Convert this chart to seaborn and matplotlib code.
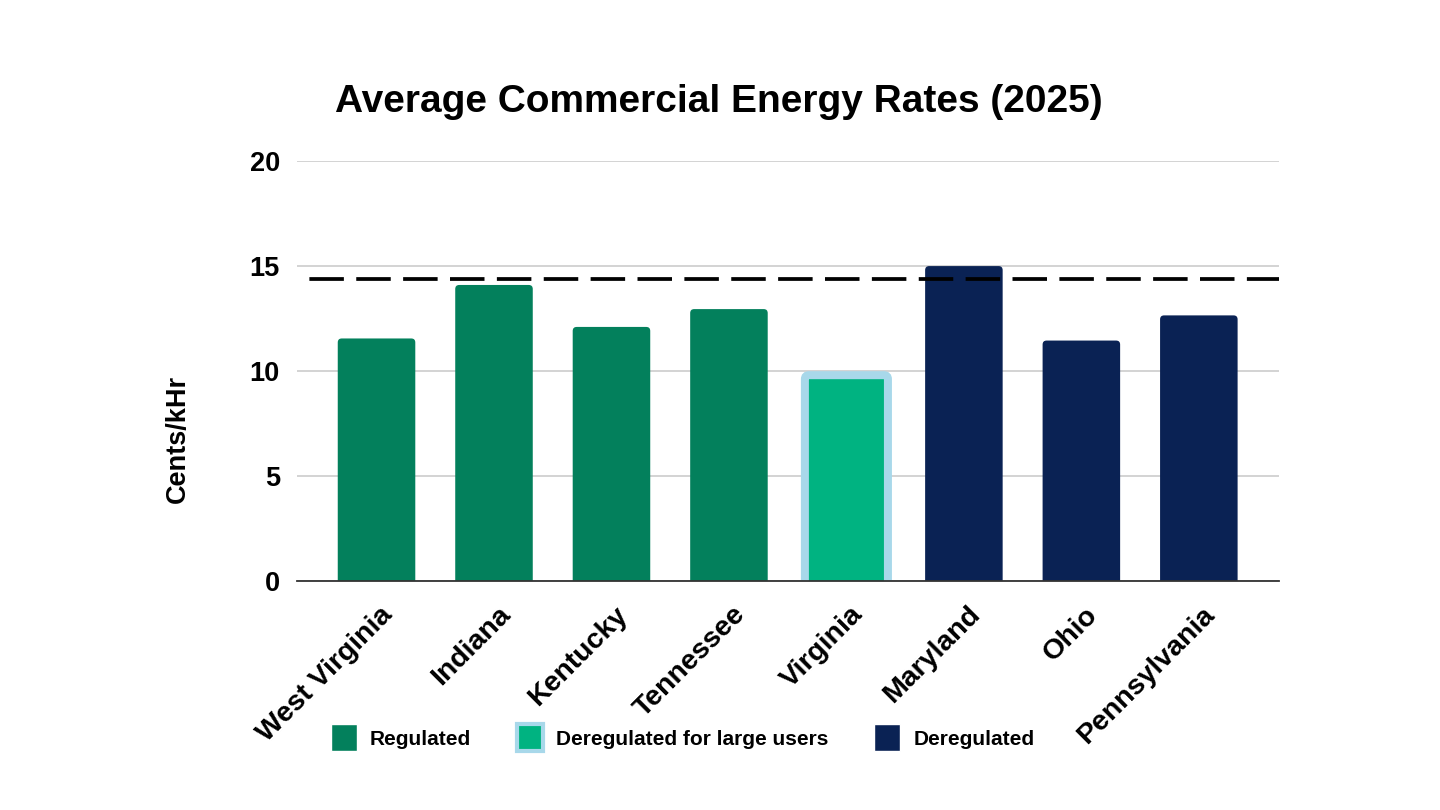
import matplotlib
matplotlib.use("Agg")
import matplotlib.pyplot as plt
import seaborn as sns
import pandas as pd
from matplotlib.patches import Patch, FancyBboxPatch
from matplotlib.transforms import ScaledTranslation

# ─── Data ────────────────────────────────────────────────────────────────────
states = ["West Virginia", "Indiana", "Kentucky", "Tennessee",
          "Virginia", "Maryland", "Ohio", "Pennsylvania"]
rates = [11.55, 14.1, 12.1, 12.95, 9.8, 15.0, 11.45, 12.65]
market = ["Regulated", "Regulated", "Regulated", "Regulated",
          "Deregulated for large users", "Deregulated", "Deregulated", "Deregulated"]
national_avg = 14.37
y_ticks = [0, 5, 10, 15, 20]

palette = {"Regulated": "#03805c",
           "Deregulated for large users": "#00b381",
           "Deregulated": "#0a2254"}
outline = "#a8d8ea"

df = pd.DataFrame({"state": states, "rate": rates, "market": market})

sns.set_theme(style="white")
plt.rcParams["font.family"] = ["Liberation Sans", "DejaVu Sans"]
plt.rcParams.update({"text.color": "black", "axes.labelcolor": "black",
                     "xtick.color": "black", "ytick.color": "black"})

fig = plt.figure(figsize=(14.4, 8.1), dpi=100)
ax = fig.add_axes([0.206, 0.283, 0.682, 0.518])

sns.barplot(data=df, x="state", y="rate", hue="market", palette=palette,
            dodge=False, width=0.66, legend=False, ax=ax, saturation=1)

ax.set_ylim(0, 20)
ax.set_xlim(-0.68, len(states) - 0.32)

# swap the plain bars for ones with slightly rounded tops
px_x = ax.bbox.width / (ax.get_xlim()[1] - ax.get_xlim()[0])
px_y = ax.bbox.height / (ax.get_ylim()[1] - ax.get_ylim()[0])
r_px = 4.0
rx, ry = r_px / px_x, r_px / px_y
edge_px = 8.0
bars = list(ax.patches)
for patch, m in zip(bars, market):
    x, w, h = patch.get_x(), patch.get_width(), patch.get_height()
    fc = patch.get_facecolor()
    patch.remove()
    kw = dict(facecolor=fc, edgecolor="none", lw=0)
    if m == "Deregulated for large users":
        kw.update(edgecolor=outline, lw=edge_px * 72 / fig.dpi)
        grow = 5.5 / px_x
        x, w = x - grow / 2, w + grow
    rb = FancyBboxPatch((x, -3 * ry), w, h + 3 * ry,
                        boxstyle=f"round,pad=0,rounding_size={rx}",
                        mutation_aspect=ry / rx, zorder=2, **kw)
    ax.add_patch(rb)

ax.axhline(national_avg, color="black", lw=2.7,
           linestyle=(9.2, (9.2, 3.3)), zorder=5)

ax.set_yticks(y_ticks)
ax.yaxis.grid(True, color="#cccccc", lw=1.2)
ax.set_axisbelow(True)
for s in ["top", "right", "left"]:
    ax.spines[s].set_visible(False)
ax.spines["bottom"].set_color("#333333")
ax.spines["bottom"].set_linewidth(1.3)
ax.spines["bottom"].set_zorder(6)
ax.tick_params(axis="both", length=0, labelsize=19.5)
ax.tick_params(axis="y", pad=12)
for lbl in ax.get_yticklabels():
    lbl.set_fontweight("bold")
ax.set_xticks(range(len(states)))
ax.set_xticklabels(states, rotation=45, ha="right", rotation_mode="anchor",
                   fontweight="bold", fontsize=20.5)
ax.tick_params(axis="x", pad=15)
shift = ScaledTranslation(3 / 100, 0, fig.dpi_scale_trans)
for lbl in ax.get_xticklabels():
    lbl.set_transform(lbl.get_transform() + shift)
ax.set_xlabel("")
ax.set_ylabel("Cents/kHr", fontsize=19.5, fontweight="bold")
ax.yaxis.set_label_coords(-0.108, 0.338)

fig.text(0.499, 0.874, "Average Commercial Energy Rates (2025)", ha="center",
         va="center", fontsize=28, fontweight="bold")

handles = [Patch(facecolor=palette["Regulated"], label="Regulated"),
           Patch(facecolor=palette["Deregulated for large users"],
                 edgecolor=outline, lw=3, label="Deregulated for large users"),
           Patch(facecolor=palette["Deregulated"], label="Deregulated")]
fig.legend(handles=handles, loc="center", bbox_to_anchor=(0.474, 0.089), ncol=3,
           frameon=False, prop={"weight": "bold", "size": 15},
           handlelength=1.25, handleheight=1.62, columnspacing=2.2, handletextpad=0.63)

fig.savefig("out.png", dpi=100)
